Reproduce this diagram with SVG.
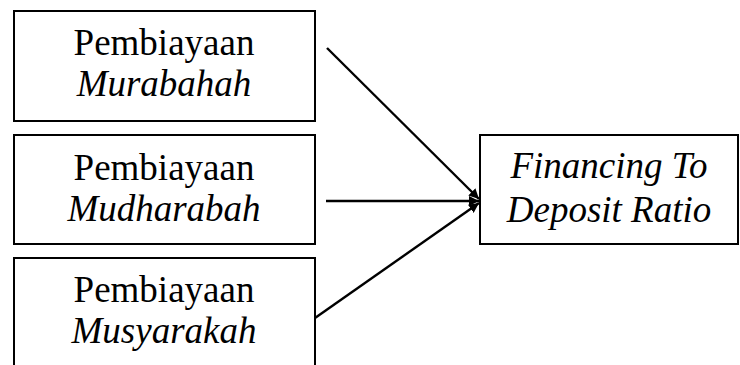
<svg xmlns="http://www.w3.org/2000/svg" width="740" height="365" viewBox="0 0 740 365">
<style>
.box{fill:#fff;stroke:#000;stroke-width:2}
.t{font-family:"Liberation Serif","Times New Roman",serif;font-size:37px;fill:#000;text-anchor:middle}
.i{font-style:italic}
.c{stroke:#000;stroke-width:2.4;fill:none}
</style>
<defs>
<marker id="ah" viewBox="0 0 10 10" refX="10" refY="5" markerWidth="4.2" markerHeight="4.2" orient="auto" markerUnits="strokeWidth">
<path d="M0,0 L10,5 L0,10 z" fill="#000"/>
</marker>
</defs>
<rect width="740" height="365" fill="#fff"/>
<g id="n1">
<rect class="box" x="14" y="11" width="301" height="110"/>
<text class="t" x="164" y="55">Pembiayaan</text>
<text class="t i" x="164" y="96">Murabahah</text>
</g>
<g id="n2">
<rect class="box" x="14" y="135" width="301" height="109"/>
<text class="t" x="164" y="180">Pembiayaan</text>
<text class="t i" x="164" y="221">Mudharabah</text>
</g>
<g id="n3">
<rect class="box" x="14" y="258" width="301" height="120"/>
<text class="t" x="164" y="302">Pembiayaan</text>
<text class="t i" x="164" y="343">Musyarakah</text>
</g>
<g id="n4">
<rect class="box" x="480" y="135" width="258" height="109"/>
<text class="t i" x="609" y="178">Financing To</text>
<text class="t i" x="609" y="222">Deposit Ratio</text>
</g>
<g id="connectors">
<line class="c" x1="327" y1="48" x2="479" y2="199" marker-end="url(#ah)"/>
<line class="c" x1="326" y1="201" x2="479" y2="201" marker-end="url(#ah)"/>
<line class="c" x1="315" y1="318" x2="479" y2="203" marker-end="url(#ah)"/>
</g>
</svg>
